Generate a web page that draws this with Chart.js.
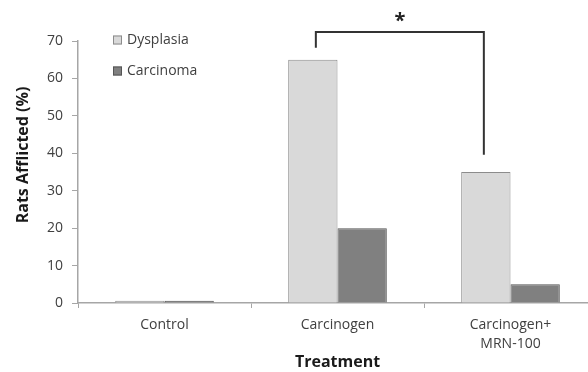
<!DOCTYPE html>
<html>
<head>
<meta charset="utf-8">
<script src="https://cdn.jsdelivr.net/npm/chart.js@4/dist/chart.umd.min.js"></script>
<style>
  html, body { margin: 0; padding: 0; background: #fff; overflow: hidden; }
  #wrap { width: 600px; height: 372px; }
</style>
</head>
<body>
<div id="wrap"><canvas id="barchart" width="600" height="372"></canvas></div>
<script>
var categories = ['Control', 'Carcinogen', ['Carcinogen+', 'MRN-100']];
var dysplasia = [0.6, 65, 35];
var carcinoma = [0.6, 20, 5];
var yTicks = [0, 10, 20, 30, 40, 50, 60, 70];
var yTitle = 'Rats Afflicted (%)';

var fontName = "'Open Sans', 'Liberation Sans', sans-serif";

// legend drawn inside the plot, top left
var innerLegend = {
  id: 'innerLegend',
  afterDraw: function(chart) {
    var ctx = chart.ctx;
    var x = 113, y = 40;
    ctx.save();
    ctx.font = '14px ' + fontName;
    ctx.textBaseline = 'middle';
    chart.data.datasets.forEach(function(ds, i) {
      var yy = y + i * 31;
      ctx.fillStyle = ds.backgroundColor;
      ctx.strokeStyle = ds.borderColor;
      ctx.lineWidth = 1;
      ctx.fillRect(x, yy - 4.5, 9, 9);
      ctx.strokeRect(x + 0.5, yy - 4, 8, 8);
      ctx.fillStyle = '#404040';
      ctx.fillText(ds.label, x + 14, yy);
    });
    ctx.restore();
  }
};

// y title sits a bit above the middle of the axis in the original
var sideTitle = {
  id: 'sideTitle',
  afterDraw: function(chart) {
    var ctx = chart.ctx;
    ctx.save();
    ctx.translate(23, 155);
    ctx.rotate(-Math.PI / 2);
    ctx.font = 'bold 16px ' + fontName;
    ctx.fillStyle = '#1a1a1a';
    ctx.textAlign = 'center';
    ctx.textBaseline = 'middle';
    ctx.fillText(yTitle, 0, 0);
    ctx.restore();
  }
};

// significance bracket between the dysplasia bars
var bracket = {
  id: 'bracket',
  afterDraw: function(chart) {
    var ctx = chart.ctx;
    var bars = chart.getDatasetMeta(0).data;
    var ys = chart.scales.y;
    var x1 = bars[1].x + 3, x2 = bars[2].x - 2;
    var top = ys.getPixelForValue(72.4);
    var y1 = ys.getPixelForValue(68.2);
    var y2 = ys.getPixelForValue(39.6);
    ctx.save();
    ctx.strokeStyle = '#333';
    ctx.lineWidth = 2;
    ctx.beginPath();
    ctx.moveTo(x1, y1);
    ctx.lineTo(x1, top);
    ctx.lineTo(x2, top);
    ctx.lineTo(x2, y2);
    ctx.stroke();
    ctx.fillStyle = '#222';
    ctx.font = 'bold 20px ' + fontName;
    ctx.textAlign = 'center';
    ctx.textBaseline = 'middle';
    ctx.fillText('*', (x1 + x2) / 2, top - 11);
    ctx.restore();
  }
};

var ctxB = document.getElementById('barchart').getContext('2d');
var myBarChart = new Chart(ctxB, {
  type: 'bar',
  data: {
    labels: categories,
    datasets: [{
      label: 'Dysplasia',
      data: dysplasia,
      backgroundColor: '#d9d9d9',
      borderColor: '#8c8c8c',
      borderWidth: 1
    }, {
      label: 'Carcinoma',
      data: carcinoma,
      backgroundColor: '#808080',
      borderColor: '#555555',
      borderWidth: 1
    }]
  },
  options: {
    responsive: false,
    animation: false,
    layout: { padding: { top: 41, right: 3, left: 0, bottom: 0 } },
    plugins: {
      legend: { display: false },
      tooltip: { enabled: false }
    },
    datasets: {
      bar: { categoryPercentage: 0.57, barPercentage: 1.0 }
    },
    scales: {
      x: {
        offset: true,
        grid: {
          offset: true,
          drawOnChartArea: false,
          tickLength: 5,
          color: '#a6a6a6'
        },
        border: { color: '#a6a6a6', width: 1.5 },
        ticks: {
          color: '#404040',
          font: { family: fontName, size: 14, lineHeight: 1.4 },
          maxRotation: 0,
          padding: 7
        },
        title: {
          display: true,
          text: 'Treatment',
          color: '#1a1a1a',
          font: { family: fontName, size: 16, weight: 'bold' },
          padding: { top: 0, bottom: 0 }
        },
        afterFit: function(scale) { scale.height = 69; }
      },
      y: {
        min: 0,
        max: 70,
        afterBuildTicks: function(scale) {
          scale.ticks = yTicks.map(function(v) { return { value: v }; });
        },
        grid: {
          drawOnChartArea: false,
          tickLength: 6,
          color: '#a6a6a6'
        },
        border: { color: '#a6a6a6', width: 1.5 },
        ticks: {
          color: '#404040',
          font: { family: fontName, size: 14 },
          padding: 9
        },
        afterFit: function(scale) { scale.width = 78; }
      }
    }
  },
  plugins: [innerLegend, sideTitle, bracket]
});
</script>
</body>
</html>
